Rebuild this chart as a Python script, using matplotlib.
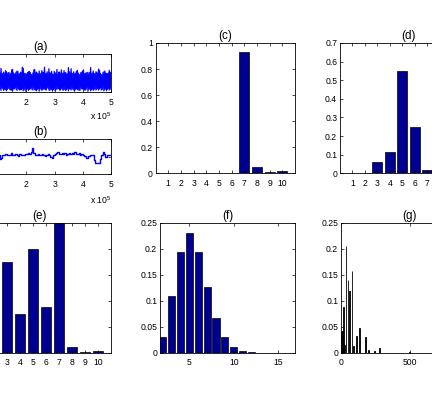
import matplotlib
matplotlib.use("Agg")
import matplotlib.pyplot as plt
from matplotlib.ticker import FuncFormatter, MultipleLocator

plt.rcParams["font.family"] = ["Liberation Sans", "DejaVu Sans"]
plt.rcParams["mathtext.default"] = "regular"

# (a) noisy signal: upper and lower excursions
a_upper = [5.2, 4.8, 5.6, 4.9, 5.3, 6.1, 5.0, 4.7, 5.4, 5.1,
           4.9, 5.8, 5.2, 4.6, 5.5, 5.0, 6.4, 5.1, 4.8, 5.3,
           5.7, 4.9, 5.2, 5.0, 6.0, 4.7, 5.3, 5.5, 4.9, 5.1,
           6.3, 5.0, 4.8, 5.4, 5.2, 4.7, 5.9, 5.1, 5.0, 5.6,
           4.8, 5.3, 6.6, 5.0, 4.9, 5.2, 5.5, 4.7, 5.1, 6.0,
           5.3, 4.8, 5.0, 5.7, 5.2, 4.9, 5.4, 6.2, 5.0, 4.8,
           5.5, 5.1, 4.7, 5.3, 5.9, 5.0, 5.2, 4.8, 6.5, 5.1,
           4.9, 5.4, 5.0, 5.8, 4.7, 5.2, 5.6, 4.9, 5.1, 5.3]
a_lower = [0.9, 0.6, 1.1, 0.7, 0.4, 1.0, 0.8, 0.5, 1.2, 0.7,
           0.9, 0.3, 0.8, 1.0, 0.6, 0.7, 1.1, 0.5, 0.9, 0.8,
           0.4, 1.0, 0.7, 0.6, 0.9, 1.2, 0.5, 0.8, 0.7, 1.0,
           0.6, 0.3, 0.9, 0.8, 1.1, 0.6, 0.7, 0.4, 1.0, 0.8,
           0.5, 0.9, 0.7, 1.2, 0.6, 0.8, 0.3, 1.0, 0.7, 0.9,
           0.6, 1.1, 0.5, 0.8, 0.7, 0.4, 0.9, 1.0, 0.6, 0.8,
           0.7, 0.5, 1.1, 0.9, 0.6, 0.8, 0.3, 1.0, 0.7, 0.5,
           0.9, 0.8, 0.6, 1.2, 0.7, 0.4, 0.9, 0.8, 0.6, 1.0]

# (b) piecewise constant signal, one value per 5000 samples
b_vals = [5.5, 5.6, 5.3, 5.7, 5.4, 5.5, 5.8, 5.2, 5.6, 5.5,
          5.4, 5.7, 5.3, 5.5, 5.6, 5.4, 5.5, 5.7, 5.3, 5.6,
          5.5, 4.3, 4.8, 5.6, 5.5, 5.9, 5.4, 5.6, 5.5, 6.0,
          5.4, 5.6, 5.8, 5.5, 5.3, 5.7, 5.6, 5.5, 5.6, 5.9,
          5.7, 6.1, 5.8, 6.4, 7.4, 6.2, 5.6, 5.5, 5.7, 5.4,
          5.6, 5.8, 5.5, 5.3, 5.6, 5.7, 5.4, 5.0, 4.6, 5.5,
          5.8, 6.0, 6.5, 5.9, 5.7, 6.0, 5.8, 6.1, 5.6, 5.9,
          6.2, 5.7, 6.0, 5.8, 6.3, 5.7, 5.9, 6.1, 5.6, 5.8,
          5.5, 5.2, 4.8, 4.7, 5.3, 5.6, 5.4, 5.5, 4.2, 3.2,
          3.1, 3.3, 4.5, 5.6, 6.5, 5.9, 5.0, 5.6, 5.4, 5.5]

cats10 = [1, 2, 3, 4, 5, 6, 7, 8, 9, 10]
c_vals = [0, 0, 0, 0, 0, 0, 0.93, 0.045, 0.01, 0.015]
d_vals = [0, 0, 0.06, 0.115, 0.55, 0.25, 0.02, 0.005, 0.0, 0.0]
e_vals = [0.6, 1.0, 0.70, 0.30, 0.80, 0.354, 1.0, 0.046, 0.01, 0.015]

f_x = [2, 3, 4, 5, 6, 7, 8, 9, 10, 11, 12, 13, 14, 15, 16]
f_vals = [0.03, 0.109, 0.195, 0.23, 0.195, 0.127, 0.068, 0.03, 0.012,
          0.004, 0.001, 0.0003, 0.0002, 0.0001, 0.0001]

g_x = [0, 4, 8, 12, 17, 21, 26, 37, 51, 61, 80, 90, 115, 134, 178, 203, 244, 281, 500]
g_vals = [0.028, 0.04, 0.042, 0.042, 0.088, 0.017, 0.015, 0.205, 0.14, 0.119,
          0.157, 0.013, 0.032, 0.048, 0.03, 0.006, 0.003, 0.01, 0.001]

W, H = 432, 393
fig = plt.figure(figsize=(W / 100, H / 100), dpi=100)
fig.patch.set_facecolor("white")


def box(l, t, r, b):
    return [l / W, 1 - b / H, (r - l) / W, (b - t) / H]


navy = "#000090"
TICK = 6.2


def style(ax, title, xshow=None, yshow=True, xscale=1.0):
    ax.set_title(title, fontsize=8.4, pad=3)
    ax.tick_params(direction="in", top=True, right=True, length=2, width=0.5,
                   labelsize=TICK)
    ax.tick_params(axis="x", pad=3.8)
    ax.tick_params(axis="y", pad=2.0)
    for s in ax.spines.values():
        s.set_linewidth(0.6)

    def xf(v, p):
        if xshow is not None and not (xshow[0] <= v <= xshow[1]):
            return ""
        return "%g" % (v / xscale)

    ax.xaxis.set_major_formatter(FuncFormatter(xf))
    if yshow:
        ax.yaxis.set_major_formatter(FuncFormatter(lambda v, p: "%g" % v))
    else:
        ax.yaxis.set_major_formatter(FuncFormatter(lambda v, p: ""))


# (a)
ax = fig.add_axes(box(-30, 54.3, 111, 92.3))
n = len(a_upper)
step = 5e5 / (2 * n - 1)
xs1, ys1, xs2, ys2 = [], [], [], []
for i in range(n):
    xs1 += [2 * i * step, (2 * i + 1) * step]
    ys1 += [a_upper[i], a_lower[i]]
    xs2 += [2 * i * step, (2 * i + 1) * step]
    ys2 += [a_lower[(i + 7) % n], a_upper[(i + 13) % n]]
ax.plot(xs1, ys1, color="blue", lw=0.9)
ax.plot(xs2, ys2, color="blue", lw=0.9)
ax.set_xlim(0, 5e5)
ax.set_ylim(0, 10)
ax.xaxis.set_major_locator(MultipleLocator(1e5))
style(ax, "(a)", xshow=(1.5e5, 5e5), yshow=False, xscale=1e5)
ax.annotate("x 10$^5$", xy=(1, 0), xycoords="axes fraction", xytext=(0, -13),
            textcoords="offset points", ha="right", va="top", fontsize=TICK)

# (b)
ax = fig.add_axes(box(-30, 139.3, 111, 174.3))
bx = [5000 * i for i in range(len(b_vals))] + [5e5]
ax.plot(bx, b_vals + [b_vals[-1]], color="blue", lw=1.0, drawstyle="steps-post")
ax.set_xlim(0, 5e5)
ax.set_ylim(0, 10)
ax.xaxis.set_major_locator(MultipleLocator(1e5))
style(ax, "(b)", xshow=(1.5e5, 5e5), yshow=False, xscale=1e5)
ax.annotate("x 10$^5$", xy=(1, 0), xycoords="axes fraction", xytext=(0, -14.5),
            textcoords="offset points", ha="right", va="top", fontsize=TICK)

# (c)
ax = fig.add_axes(box(155.5, 43, 295, 173.3))
ax.bar(cats10, c_vals, width=0.8, color=navy, edgecolor="black", lw=0.5)
ax.set_xlim(0, 11)
ax.set_ylim(0, 1)
ax.set_xticks(cats10)
ax.yaxis.set_major_locator(MultipleLocator(0.2))
style(ax, "(c)")

# (d)
ax = fig.add_axes(box(340, 43, 477, 173.3))
ax.bar(cats10, d_vals, width=0.8, color=navy, edgecolor="black", lw=0.5)
ax.set_xlim(0, 11)
ax.set_ylim(0, 0.7)
ax.set_xticks(cats10)
ax.yaxis.set_major_locator(MultipleLocator(0.1))
style(ax, "(d)", xshow=(1, 7))

# (e)
ax = fig.add_axes(box(-32, 223, 111, 353))
ax.bar(cats10, e_vals, width=0.8, color=navy, edgecolor="black", lw=0.5)
ax.set_xlim(0, 11)
ax.set_ylim(0, 1)
ax.set_xticks(cats10)
ax.yaxis.set_major_locator(MultipleLocator(0.2))
style(ax, "(e)", xshow=(3, 10), yshow=False)

# (f)
ax = fig.add_axes(box(160, 223, 295, 353))
ax.bar(f_x, f_vals, width=0.8, color=navy, edgecolor="black", lw=0.5)
ax.set_xlim(1.7, 16.9)
ax.set_ylim(0, 0.25)
ax.set_xticks([5, 10, 15])
ax.yaxis.set_major_locator(MultipleLocator(0.05))
style(ax, "(f)")

# (g)
ax = fig.add_axes(box(341, 223, 478, 353))
ax.bar(g_x, g_vals, width=5, color="black", edgecolor="black", lw=0.6)
ax.set_xlim(0, 1000)
ax.set_ylim(0, 0.25)
ax.set_xticks([0, 500, 1000])
ax.yaxis.set_major_locator(MultipleLocator(0.05))
style(ax, "(g)", xshow=(0, 500))

fig.savefig("out.png", dpi=100, facecolor="white")
